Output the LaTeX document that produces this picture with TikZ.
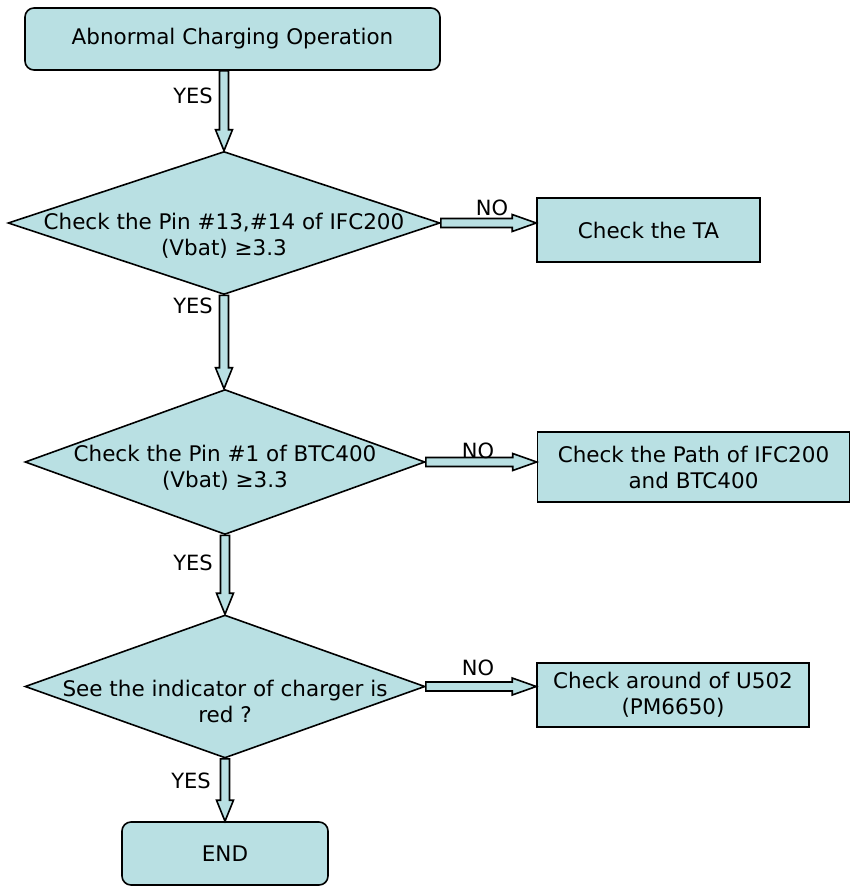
\documentclass[tikz,border=0pt]{standalone}
\usepackage{fontspec}
\setmainfont{DejaVu Sans}
\usetikzlibrary{shapes.geometric,calc}
\definecolor{boxfill}{RGB}{185,224,227}
% hollow block arrows
\newcommand{\downarr}[2]{%
  \draw[arr] let \p1=(#1), \p2=(#2) in
    (\x1-4.5pt,\y1) -- (\x1+4.5pt,\y1) -- (\x1+4.5pt,\y2+21pt) -- (\x1+8.5pt,\y2+21pt)
    -- (\x1,\y2) -- (\x1-8.5pt,\y2+21pt) -- (\x1-4.5pt,\y2+21pt) -- cycle;}
\newcommand{\rightarr}[2]{%
  \draw[arr] let \p1=(#1), \p2=(#2) in
    (\x1,\y1+4.5pt) -- (\x2-24pt,\y1+4.5pt) -- (\x2-24pt,\y1+8.5pt) -- (\x2,\y1)
    -- (\x2-24pt,\y1-8.5pt) -- (\x2-24pt,\y1-4.5pt) -- (\x1,\y1-4.5pt) -- cycle;}
\begin{document}
\begin{tikzpicture}[x=1pt,y=-1pt,
  box/.style={draw,fill=boxfill,line width=1.6pt,align=center,inner sep=0pt,
    font=\fontsize{21.5}{26}\selectfont},
  rbox/.style={box,rounded corners=9pt},
  decision/.style={diamond,draw,fill=boxfill,line width=1.6pt,inner sep=0pt},
  dtext/.style={align=center,font=\fontsize{21.5}{26}\selectfont},
  lbl/.style={font=\fontsize{21}{24}\selectfont},
  arr/.style={draw,fill=boxfill,line width=1.6pt}]
\useasboundingbox (0,0) rectangle (851,888);
%
\node[rbox,minimum width=415pt,minimum height=62pt] (start) at (232.5,39) {Abnormal Charging Operation};
\node[decision,minimum width=432pt,minimum height=143pt] (d1) at (224,223) {};
\node[dtext,yshift=-13pt] (d1t) at (d1) {Check the Pin \#13,\#14 of IFC200\\(Vbat) ≥3.3};
\node[box,minimum width=223pt,minimum height=64pt] (ta) at (648.5,230) {Check the TA};
%
\node[decision,minimum width=400pt,minimum height=145pt] (d2) at (225,462) {};
\node[dtext,yshift=-6pt] (d2t) at (d2) {Check the Pin \#1 of BTC400\\(Vbat) ≥3.3};
\node[box,minimum width=312pt,minimum height=70pt] (path) at (693.5,467) {Check the Path of IFC200\\and BTC400};
%
\node[decision,minimum width=400pt,minimum height=143pt] (d3) at (225,686.5) {};
\node[dtext,yshift=-15pt] (d3t) at (d3) {See the indicator of charger is\\red ?};
\node[box,minimum width=272pt,minimum height=64pt] (u502) at (673,695) {Check around of U502\\(PM6650)};
%
\node[rbox,minimum width=206pt,minimum height=63pt] (end) at (225,853.5) {END};
%
\downarr{d1.north |- start.south}{d1.north}
\downarr{d1.south}{d2.north}
\downarr{d2.south}{d3.north}
\downarr{d3.south}{end.north}
\rightarr{d1.east}{d1.east -| ta.west}
\rightarr{d2.east}{d2.east -| path.west}
\rightarr{d3.east}{d3.east -| u502.west}
%
\node[lbl] (y1) at (193,96) {YES};
\node[lbl] (y2) at (193,306) {YES};
\node[lbl] (y3) at (193,563) {YES};
\node[lbl] (y4) at (191,781) {YES};
\node[lbl] (n1) at (492,208) {NO};
\node[lbl] (n2) at (478,451) {NO};
\node[lbl] (n3) at (478,668) {NO};
\end{tikzpicture}
\end{document}
